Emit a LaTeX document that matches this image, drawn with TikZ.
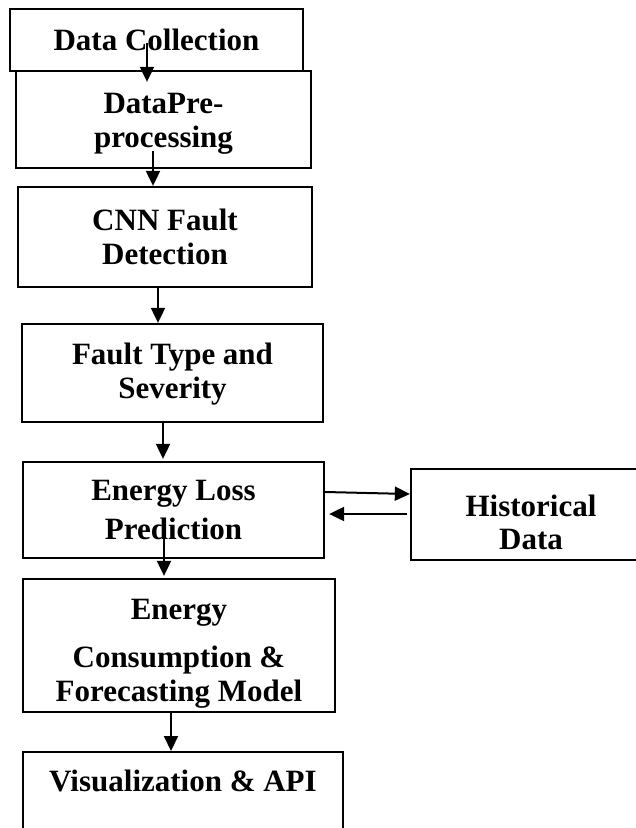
\documentclass[tikz,border=0pt]{standalone}
\usepackage{fontspec}
\setmainfont{Liberation Serif}
\usetikzlibrary{arrows.meta}

\begin{document}
\begin{tikzpicture}[x=1pt,y=-1pt,
  box/.style={draw,line width=2.3pt,inner sep=0pt,align=center,
    font=\bfseries\fontsize{31}{34.5}\selectfont},
  flow/.style={line width=2pt,-{Triangle[length=15pt,width=14pt]}}]
\useasboundingbox (0,0) rectangle (636,828);
\fill[white] (0,0) rectangle (636,828);
\clip (0,0) rectangle (636,828);
\node[box,minimum width=293pt,minimum height=62pt] (dc) at (156.5,40) {Data Collection};
\node[box,minimum width=295pt,minimum height=97pt] (pre) at (163.5,119.5) {\rule{0pt}{29pt}DataPre-\\processing};
\node[box,minimum width=294pt,minimum height=100pt] (cnn) at (165,237) {CNN Fault\\Detection};
\node[box,minimum width=301pt,minimum height=98pt] (ftype) at (172.5,373) {\rule{0pt}{24pt}Fault Type and\\Severity};
\node[box,minimum width=301pt,minimum height=96pt] (loss) at (173.5,510) {Energy Loss\\[4pt]Prediction};
\node[box,minimum width=240pt,minimum height=91pt] (hist) at (531,514.5) {\rule{0pt}{37pt}Historical\\[-2pt]Data};
\node[box,minimum width=312pt,minimum height=133pt] (model) at (179,645.5) {\rule{0pt}{37pt}Energy\\[13pt]Consumption \&\\Forecasting Model};
\node[box,anchor=north,minimum width=320pt,inner ysep=18pt,text height=21pt,text depth=70pt] (vis) at (183,751) {Visualization \& API};
\draw[flow] ([xshift=-9.5pt,yshift=-3pt]dc.center) -- ([xshift=-16.5pt,yshift=-12pt]pre.north);
\draw[flow] ([xshift=-10.5pt,yshift=18pt]pre.south) -- ([xshift=-12pt]cnn.north);
\draw[flow] ([xshift=-7pt]cnn.south) -- ([xshift=-14.5pt]ftype.north);
\draw[flow] ([xshift=-9.5pt]ftype.south) -- ([xshift=-10.5pt,yshift=2pt]loss.north);
\draw[flow] ([xshift=-9.5pt,yshift=-25pt]loss.center) -- ([xshift=-15pt,yshift=2pt]model.north);
\draw[flow] ([xshift=-8pt,yshift=1pt]model.south) -- ([xshift=-12pt]vis.north);
\draw[flow] ([yshift=18pt]loss.east) -- ([yshift=20.5pt]hist.west);
\draw[flow] ([xshift=-3pt,yshift=0.5pt]hist.west) -- ([xshift=4pt,yshift=-4pt]loss.east);
\end{tikzpicture}
\end{document}
